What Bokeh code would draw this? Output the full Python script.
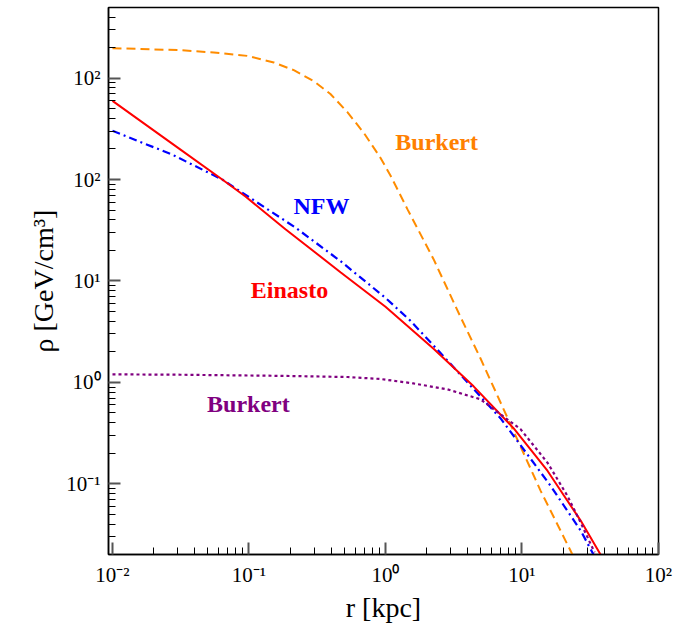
from bokeh.plotting import figure
from bokeh.models import Label, FixedTicker
from bokeh.embed import file_html
from bokeh.resources import INLINE

# Dark-matter density profiles, rho [GeV/cm^3] against radius r [kpc]
burkert_hi_r = [0.01, 0.019, 0.0315, 0.0552, 0.097, 0.152, 0.213, 0.298, 0.395, 0.524, 0.693,
                0.918, 1.09, 1.45, 2.25, 3.54, 4.97, 8.67, 13.7, 23.4]
burkert_hi_rho = [1970, 1923, 1884, 1786, 1656, 1426, 1197, 935, 697, 464, 289,
                  164, 109, 50.8, 16.4, 4.43, 1.72, 0.331, 0.0853, 0.0201]

einasto_r = [0.01, 0.0315, 0.0637, 0.0942, 0.185, 0.468, 1.0, 2.25, 4.42, 8.67,
             11.5, 15.4, 20.1, 26.9, 37.6]
einasto_rho = [596, 197, 100, 68.1, 32.4, 12.2, 5.56, 2.15, 0.914, 0.354,
               0.220, 0.134, 0.078, 0.0434, 0.0201]

nfw_r = [0.01, 0.0274, 0.0637, 0.219, 0.468, 1.0, 1.52, 2.25, 3.37, 6.95, 9.75, 16.2, 26.9, 33.4]
nfw_rho = [302, 176, 100, 33.6, 15.7, 6.81, 4.06, 2.31, 1.28, 0.444, 0.241, 0.0955, 0.0346, 0.0201]

burkert_lo_r = [0.01, 0.0315, 0.170, 0.527, 0.918, 1.60, 2.84, 4.97, 6.95, 9.75, 15.4, 21.5, 26.9, 34.0]
burkert_lo_rho = [1.20, 1.19, 1.16, 1.13, 1.08, 0.977, 0.854, 0.681, 0.485, 0.346, 0.161, 0.0762, 0.0415, 0.0211]

# Axis ticks and their labels
x_ticks = [0.01, 0.1, 1, 10, 100]
x_tick_labels = ["10⁻²", "10⁻¹", "10⁰", "10¹", "10²"]
y_ticks = [0.1, 1, 10, 100, 1000]
y_tick_labels = ["10⁻¹", "10⁰", "10¹", "10²", "10²"]

SERIF = "Liberation Serif"

p = figure(width=690, height=625, x_axis_type="log", y_axis_type="log",
           x_range=(0.00935, 100), y_range=(0.0201, 4966),
           output_backend="svg", toolbar_location=None,
           min_border_left=108, min_border_right=32,
           min_border_top=7, min_border_bottom=68)

p.xgrid.visible = False
p.ygrid.visible = False
p.outline_line_color = "black"
p.outline_line_width = 1.5
p.outline_line_alpha = 1.0


def minor_ticks(lo_exp, hi_exp):
    out = []
    for e in range(lo_exp, hi_exp + 1):
        for k in range(2, 10):
            out.append(k * 10.0 ** e)
    return out


p.xaxis.ticker = FixedTicker(ticks=x_ticks, minor_ticks=minor_ticks(-3, 1))
p.yaxis.ticker = FixedTicker(ticks=y_ticks, minor_ticks=minor_ticks(-2, 3))
p.xaxis.major_label_overrides = dict(zip(x_ticks, x_tick_labels))
p.yaxis.major_label_overrides = dict(zip(y_ticks, y_tick_labels))

for ax in (p.xaxis, p.yaxis):
    ax.axis_line_color = "black"
    ax.axis_line_width = 1.5
    ax.major_tick_in = 12
    ax.major_tick_out = 0
    ax.minor_tick_in = 7
    ax.minor_tick_out = 0
    ax.major_tick_line_color = "#555555"
    ax.major_tick_line_width = 2
    ax.minor_tick_line_color = "black"
    ax.minor_tick_line_width = 1
    ax.major_label_text_font = SERIF
    ax.major_label_text_font_size = "21px"
    ax.major_label_text_color = "black"
    ax.major_label_standoff = 8
    ax.axis_label_text_font = SERIF
    ax.axis_label_text_font_style = "normal"
    ax.axis_label_text_font_size = "28px"
    ax.axis_label_text_color = "black"

p.xaxis.axis_label = "r [kpc]"
p.xaxis.axis_label_standoff = 2
p.yaxis.axis_label = "ρ [GeV/cm³]"
p.yaxis.axis_label_standoff = 4

# Profiles
p.line(burkert_hi_r, burkert_hi_rho, line_color="#FF8C00", line_width=2, line_dash="9 5")
p.line(nfw_r, nfw_rho, line_color="#0000FF", line_width=2.2, line_dash="8 4 2 4")
p.line(einasto_r, einasto_rho, line_color="#FF0000", line_width=2)
p.line(burkert_lo_r, burkert_lo_rho, line_color="#800080", line_width=2.2, line_dash="3 3")

# Curve labels
for (lx, ly, txt, col) in [
    (2.37, 236, "Burkert", "#FF8000"),
    (0.34, 54.4, "NFW", "#0000FF"),
    (0.198, 8.16, "Einasto", "#FF0000"),
    (0.099, 0.608, "Burkert", "#800080"),
]:
    p.add_layout(Label(x=lx, y=ly, text=txt, text_color=col,
                       text_font=SERIF, text_font_style="bold",
                       text_font_size="24px", text_align="center",
                       text_baseline="middle"))

open("out.html", "w").write(file_html(p, INLINE))
